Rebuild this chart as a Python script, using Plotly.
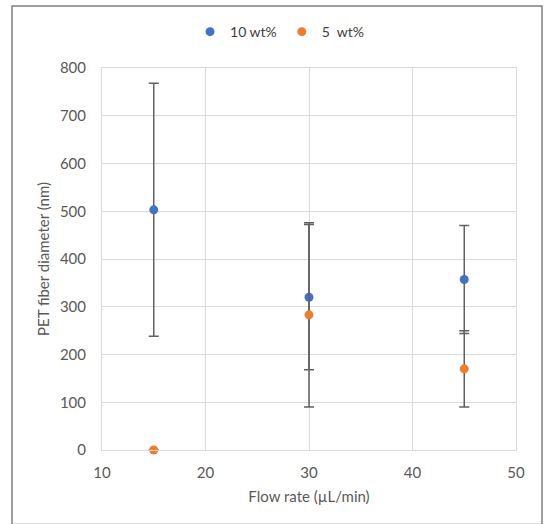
import plotly.graph_objects as go

x_10 = [15, 30, 45]
y_10 = [503, 320, 357]
err_10 = [265, 152, 113]

x_5 = [15, 30, 45]
y_5 = [0, 283, 170]
err_5 = [0, 193, 80]

x_ticks = [10, 20, 30, 40, 50]
y_ticks = [0, 100, 200, 300, 400, 500, 600, 700, 800]

FONT = "Lato, 'Open Sans', sans-serif"
TXT = "#595959"

fig = go.Figure()
fig.add_trace(go.Scatter(
    x=x_10, y=y_10, mode="markers", name="10 wt%", cliponaxis=False,
    marker=dict(color="#4472C4", size=9),
    error_y=dict(type="data", array=err_10, visible=True, color="#606060", thickness=1.5, width=5),
))
fig.add_trace(go.Scatter(
    x=x_5, y=y_5, mode="markers", name="5  wt%", cliponaxis=False,
    marker=dict(color="#ED7D31", size=9),
    error_y=dict(type="data", array=err_5, visible=True, color="#606060", thickness=1.5, width=5),
))

fig.update_layout(
    width=546, height=524,
    margin=dict(l=102, r=30, t=68, b=74, autoexpand=False),
    paper_bgcolor="white", plot_bgcolor="white",
    font=dict(family=FONT, size=15, color=TXT),
    showlegend=True,
    legend=dict(orientation="h", x=0.43, xanchor="center", y=1.094, yanchor="middle",
                bgcolor="rgba(0,0,0,0)",
                font=dict(size=14, color="#404040"), itemwidth=30, tracegroupgap=0),
    xaxis=dict(range=[10, 50], tickvals=x_ticks, showgrid=True, gridcolor="#D9D9D9", gridwidth=1,
               zeroline=False, showline=True, linecolor="#D9D9D9", linewidth=1, mirror=True,
               ticks="", ticklen=0, ticklabelstandoff=9, tickfont=dict(size=15, color=TXT),
               title=dict(text="Flow rate (µL/min)", font=dict(size=15, color=TXT), standoff=11)),
    yaxis=dict(range=[0, 800], tickvals=y_ticks, showgrid=True, gridcolor="#D9D9D9", gridwidth=1,
               zeroline=False, showline=True, linecolor="#D9D9D9", linewidth=1, mirror=True,
               ticks="", ticklen=0, ticklabelstandoff=12, tickfont=dict(size=15, color=TXT),
               title=dict(text="PET fiber diameter (nm)", font=dict(size=15, color=TXT), standoff=6)),
)

fig.add_shape(type="rect", xref="paper", yref="paper",
              x0=-0.2174, x1=1.0628, y0=-0.195, y1=1.1623,
              line=dict(color="#7F7F7F", width=1.5), layer="below")

fig.write_html("out.html")
